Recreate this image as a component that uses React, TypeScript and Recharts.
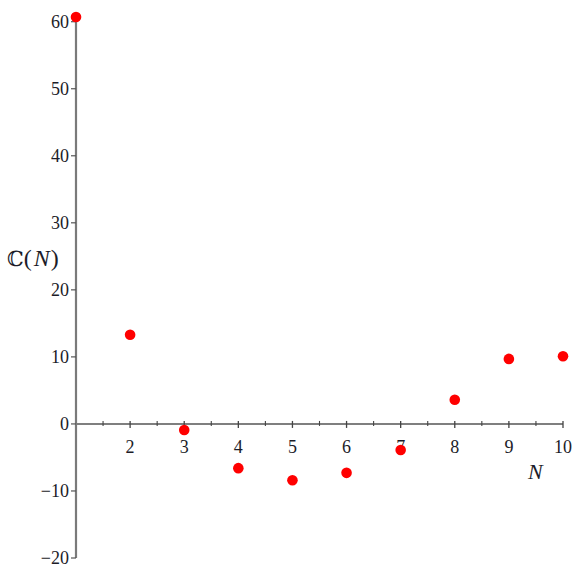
import React from "react";
import { ComposedChart, Scatter, XAxis, YAxis, ReferenceLine, ReferenceDot, Label } from "recharts";

const nValues = [1, 2, 3, 4, 5, 6, 7, 8, 9, 10];
const cValues = [60.7, 13.3, -0.9, -6.6, -8.4, -7.3, -3.9, 3.6, 9.7, 10.1];
const yTicks = [-20, -10, 0, 10, 20, 30, 40, 50, 60];
const xMajorTicks = [2, 3, 4, 5, 6, 7, 8, 9, 10];
const xMinorTicks = [1.5, 2.5, 3.5, 4.5, 5.5, 6.5, 7.5, 8.5, 9.5];

const data = nValues.map((n, i) => ({ n, c: cValues[i] }));

const FONT = "'Liberation Serif', 'DejaVu Serif', serif";
const TEXT = "#1c1c28";

const fmt = (v: number) => (v < 0 ? "\u2212" + Math.abs(v) : String(v));

const MajorTick = (label: number) => (props: any) => {
  const { cx, cy } = props;
  return (
    <g>
      <line x1={cx} x2={cx} y1={cy - 3} y2={cy + 4} stroke="#444" strokeWidth={1.3} />
      <text x={cx} y={cy + 29} textAnchor="middle" fontFamily={FONT} fontSize={18} fill={TEXT}>
        {label}
      </text>
    </g>
  );
};

const MinorTick = (props: any) => {
  const { cx, cy } = props;
  return <line x1={cx} x2={cx} y1={cy - 3} y2={cy + 2} stroke="#444" strokeWidth={1.1} />;
};

const Dot = (props: any) => {
  const { cx, cy } = props;
  return <circle cx={cx} cy={cy} r={5.3} fill="#ff0000" />;
};

const YLabel = () => (
  <text x={7} y={266} fontFamily={FONT} fontSize={24} fill={TEXT}>
    <tspan fontFamily="'DejaVu Serif', serif" fontSize={21}>ℂ</tspan>
    <tspan>(</tspan>
    <tspan fontStyle="italic" dx={2}>N</tspan>
    <tspan dx={1}>)</tspan>
  </text>
);

export default function App() {
  return (
    <div style={{ position: "absolute", left: 0, top: 0, width: 574, height: 568, background: "#fff" }}>
      <ComposedChart width={574} height={568} data={data} margin={{ top: 15, right: 11, bottom: 10, left: 0 }}>
        <XAxis type="number" dataKey="n" domain={[1, 10]} hide height={0} />
        <YAxis
          type="number"
          domain={[-20, 61]}
          ticks={yTicks}
          width={76}
          axisLine={{ stroke: "#7a7a7a", strokeWidth: 2.2 }}
          tickLine={{ stroke: "#555", strokeWidth: 1.2 }}
          tickSize={5}
          tickMargin={2}
          tickFormatter={fmt}
          tick={{ fontFamily: FONT, fontSize: 18, fill: TEXT }}
          interval={0}
        >
          <Label content={<YLabel />} />
        </YAxis>
        <ReferenceLine y={0} stroke="#555" strokeWidth={1.6} />
        {xMinorTicks.map((t) => (
          <ReferenceDot key={"m" + t} x={t} y={0} r={0} shape={MinorTick} ifOverflow="visible" />
        ))}
        {xMajorTicks.map((t) => (
          <ReferenceDot key={"M" + t} x={t} y={0} r={0} shape={MajorTick(t)} ifOverflow="visible" />
        ))}
        <Scatter dataKey="c" shape={Dot} isAnimationActive={false} />
      </ComposedChart>
      <div
        style={{
          position: "absolute",
          left: 528,
          top: 460,
          fontFamily: FONT,
          fontStyle: "italic",
          fontSize: 22,
          color: TEXT,
          lineHeight: "24px",
        }}
      >
        N
      </div>
    </div>
  );
}
